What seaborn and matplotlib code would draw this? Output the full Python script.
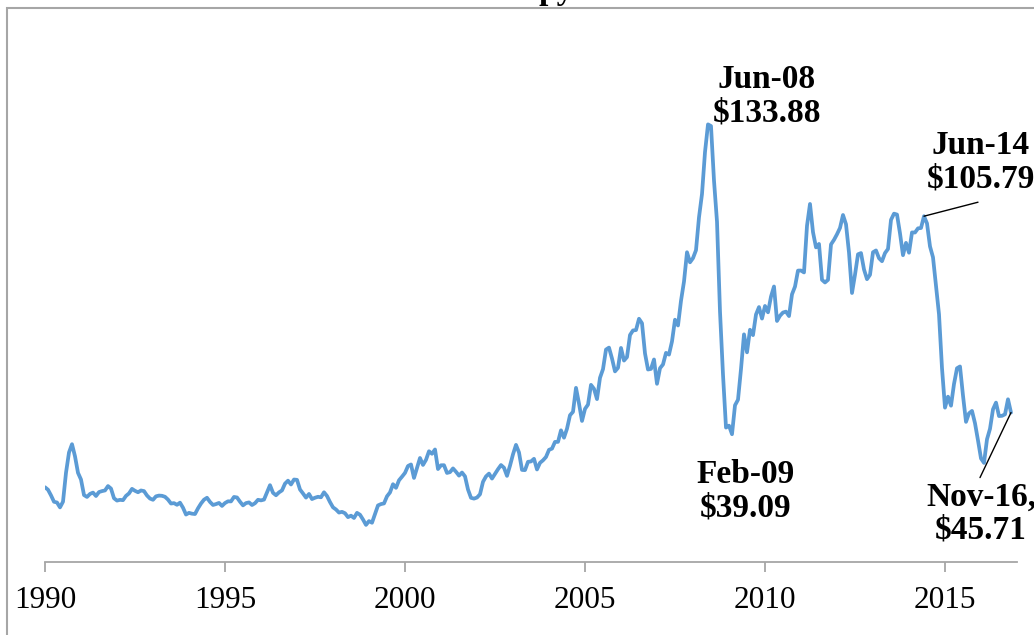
import numpy as np
import pandas as pd
import matplotlib
matplotlib.use("Agg")
import matplotlib.pyplot as plt
from matplotlib.patches import Rectangle
import seaborn as sns

# --- WTI monthly spot price (USD/bbl), Jan..Dec of each year ---
wti_1990 = [22.86, 22.11, 20.39, 18.43, 18.20, 16.70, 18.45, 27.31, 33.51, 36.04, 32.33, 27.28]
wti_1991 = [25.23, 20.48, 19.90, 20.83, 21.23, 20.19, 21.40, 21.69, 21.89, 23.23, 22.46, 19.50]
wti_1992 = [18.79, 19.01, 18.92, 20.23, 20.98, 22.37, 21.78, 21.34, 21.88, 21.69, 20.34, 19.41]
wti_1993 = [19.03, 20.09, 20.32, 20.25, 19.95, 19.09, 17.89, 18.01, 17.50, 18.15, 16.61, 14.52]
wti_1994 = [15.03, 14.78, 14.68, 16.42, 17.89, 19.06, 19.65, 18.38, 17.45, 17.72, 18.07, 17.16]
wti_1995 = [18.04, 18.57, 18.54, 19.90, 19.74, 18.45, 17.33, 18.02, 18.23, 17.43, 17.99, 19.03]
wti_1996 = [18.85, 19.09, 21.33, 23.50, 21.17, 20.42, 21.30, 21.90, 23.97, 24.88, 23.71, 25.23]
wti_1997 = [25.13, 22.18, 20.97, 19.70, 20.82, 19.26, 19.66, 19.95, 19.80, 21.33, 20.19, 18.33]
wti_1998 = [16.72, 16.06, 15.12, 15.35, 14.91, 13.72, 14.17, 13.47, 15.03, 14.46, 13.00, 11.35]
wti_1999 = [12.52, 12.01, 14.68, 17.31, 17.72, 17.92, 20.10, 21.28, 23.80, 22.69, 25.00, 26.10]
wti_2000 = [27.26, 29.37, 29.84, 25.72, 28.79, 31.82, 29.70, 31.26, 33.88, 33.11, 34.42, 28.44]
wti_2001 = [29.59, 29.61, 27.25, 27.49, 28.63, 27.60, 26.43, 27.37, 26.20, 22.17, 19.64, 19.39]
wti_2002 = [19.72, 20.72, 24.53, 26.18, 27.04, 25.52, 26.97, 28.39, 29.66, 28.84, 26.35, 29.46]
wti_2003 = [32.95, 35.83, 33.51, 28.17, 28.11, 30.66, 30.76, 31.57, 28.31, 30.34, 31.11, 32.13]
wti_2004 = [34.31, 34.69, 36.74, 36.75, 40.28, 38.03, 40.78, 44.90, 45.94, 53.28, 48.47, 43.15]
wti_2005 = [46.84, 48.15, 54.19, 52.98, 49.83, 56.35, 59.00, 64.99, 65.59, 62.26, 58.32, 59.41]
wti_2006 = [65.49, 61.63, 62.69, 69.44, 70.84, 70.95, 74.41, 73.04, 63.80, 58.89, 59.08, 61.96]
wti_2007 = [54.51, 59.28, 60.44, 63.98, 63.45, 67.49, 74.12, 72.36, 79.92, 85.80, 94.77, 91.69]
wti_2008 = [92.97, 95.39, 105.45, 112.58, 125.40, 133.88, 133.37, 116.67, 104.11, 76.61, 57.31, 41.12]
wti_2009 = [41.71, 39.09, 47.94, 49.65, 59.03, 69.64, 64.15, 71.05, 69.41, 75.72, 77.99, 74.47]
wti_2010 = [78.33, 76.39, 81.20, 84.29, 73.74, 75.34, 76.32, 76.60, 75.24, 81.89, 84.25, 89.15]
wti_2011 = [89.17, 88.58, 102.86, 109.53, 100.90, 96.26, 97.30, 86.33, 85.52, 86.32, 97.16, 98.56]
wti_2012 = [100.27, 102.20, 106.16, 103.32, 94.66, 82.30, 87.90, 94.13, 94.51, 89.49, 86.53, 87.86]
wti_2013 = [94.76, 95.31, 92.94, 92.02, 94.51, 95.77, 104.67, 106.57, 106.29, 100.54, 93.86, 97.63]
wti_2014 = [94.62, 100.82, 100.80, 102.07, 102.18, 105.79, 103.59, 96.54, 93.21, 84.40, 75.79, 59.29]
wti_2015 = [47.22, 50.58, 47.82, 54.45, 59.27, 59.82, 50.90, 42.87, 45.48, 46.22, 42.44, 37.19]
wti_2016 = [31.68, 30.32, 37.55, 40.75, 46.71, 48.76, 44.65, 44.72, 45.18, 49.78, 45.71]

yearly = [wti_1990, wti_1991, wti_1992, wti_1993, wti_1994, wti_1995, wti_1996,
          wti_1997, wti_1998, wti_1999, wti_2000, wti_2001, wti_2002, wti_2003,
          wti_2004, wti_2005, wti_2006, wti_2007, wti_2008, wti_2009, wti_2010,
          wti_2011, wti_2012, wti_2013, wti_2014, wti_2015, wti_2016]

tick_years = [1990, 1995, 2000, 2005, 2010, 2015]

# callouts: (year, month, text)
callouts = [
    (2008, 6, "Jun-08\n$133.88"),
    (2009, 2, "Feb-09\n$39.09"),
    (2014, 6, "Jun-14\n$105.79"),
    (2016, 11, "Nov-16,\n$45.71"),
]

rows = []
for i, vals in enumerate(yearly):
    for m, v in enumerate(vals):
        rows.append({"t": 1990 + i + m / 12.0, "price": v})
df = pd.DataFrame(rows)

sns.set_theme(style="white")
plt.rcParams["font.family"] = ["Liberation Serif", "DejaVu Serif"]
plt.rcParams["text.color"] = "black"

W, H = 1034, 635
fig = plt.figure(figsize=(W / 100, H / 100), dpi=100)
ax = fig.add_axes([45 / W, (H - 562) / H, 972 / W, 523 / H])

sns.lineplot(data=df, x="t", y="price", ax=ax, color="#5B9BD5", linewidth=2.7)

ax.set_xlim(1990, 2017)
ax.set_ylim(0, 160)
ax.set_xticks(tick_years)
ax.set_xticklabels([str(y) for y in tick_years], fontsize=22.5, color="black")
ax.set_yticks([])
ax.set_xlabel("")
ax.set_ylabel("")
for s in ["top", "right", "left"]:
    ax.spines[s].set_visible(False)
ax.spines["bottom"].set_color("#A6A6A6")
ax.spines["bottom"].set_linewidth(1.3)
ax.tick_params(axis="x", direction="out", length=7, width=1.3, color="#A6A6A6",
               pad=10, labelcolor="black", bottom=True)

# label placement in pixel offsets from the data point
text_off = [(59, 28), (14, -57), (57, 54), (-30, -101)]
line_off = [None, None, (54, 14), (-31, -65)]
for (yr, mo, txt), to, lo in zip(callouts, text_off, line_off):
    x = yr + (mo - 1) / 12.0
    v = yearly[yr - 1990][mo - 1]
    ax.annotate(txt, xy=(x, v), xytext=to, textcoords="offset pixels",
                ha="center", va="center", fontsize=24, fontweight="bold",
                color="black", linespacing=1.1, annotation_clip=False)
    if lo is not None:
        ax.annotate("", xy=(x, v), xytext=lo, textcoords="offset pixels",
                    annotation_clip=False,
                    arrowprops=dict(arrowstyle="-", color="black", lw=1,
                                    shrinkA=0, shrinkB=0))

# chart area frame (cropped screenshot) and clipped title
fig.add_artist(Rectangle((6.5 / W, -0.1), 2, 1.1 - 8 / H, transform=fig.transFigure,
                         fill=False, ec="#A6A6A6", lw=1.5))
fig.text(556 / W, 1.0 + 1 / H, "py", ha="center", va="baseline",
         fontsize=24, fontweight="bold", color="black")

fig.savefig("out.png", dpi=100)
